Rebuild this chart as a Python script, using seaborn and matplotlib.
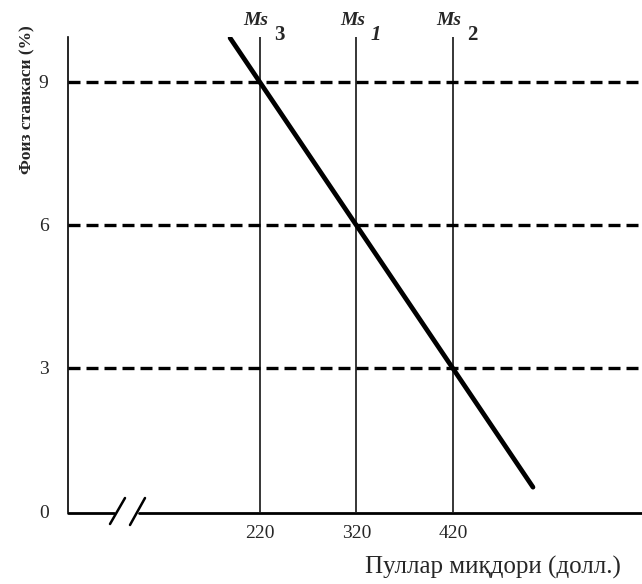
import matplotlib
matplotlib.use("Agg")
import matplotlib.pyplot as plt
import seaborn as sns
import pandas as pd

# ---- data ----
money_ticks = [220, 320, 420]
rate_ticks = [0, 3, 6, 9]
supply_x = [220, 320, 420]
supply_labels = ["3", "1", "2"]
rate_levels = [3, 6, 9]
demand_money = [189, 503]
demand_rate = [9.92, 0.5]

sns.set_style("white")
plt.rcParams['font.family'] = ['Liberation Serif', 'DejaVu Serif']

fig = plt.figure(figsize=(6.42, 5.84), dpi=100)
ax = fig.add_axes([68/642, 72/584, 574/642, 475/584])

# horizontal dashed rate levels
for r in rate_levels:
    ax.axhline(r, color='black', lw=2.4, ls=(0, (3.6, 1.8)), zorder=2)

# vertical money supply lines
for x in supply_x:
    ax.axvline(x, color='black', lw=1.1, zorder=2)

# demand line
df = pd.DataFrame({"money": demand_money, "rate": demand_rate})
sns.lineplot(data=df, x="money", y="rate", ax=ax, color='black', lw=3.4,
             solid_capstyle='round', zorder=3)

ax.set_xlim(21, 616)
ax.set_ylim(-0.02, 9.94)
ax.set_xticks(money_ticks)
ax.set_xticklabels([str(v) for v in money_ticks], fontsize=14)
ax.set_yticks(rate_ticks)
ax.set_yticklabels([str(v) for v in rate_ticks], fontsize=14)
ax.tick_params(axis='both', length=0)
ax.tick_params(axis='x', pad=9)
ax.tick_params(axis='y', pad=14)
ax.set_xlabel("")
ax.set_ylabel("")

for s in ['top', 'right', 'bottom']:
    ax.spines[s].set_visible(False)
ax.spines['left'].set_color('black')
ax.spines['left'].set_linewidth(1.2)

# bottom axis with break
tr = ax.transAxes
def fx(px):
    return (px - 68) / 574
def fy(py):
    return (584 - 72 - py) / 475 * 1.0
ax.plot([0, fx(114)], [fy(513), fy(513)], transform=tr, color='black', lw=2.0, clip_on=False)
ax.plot([fx(139), 1], [fy(513), fy(513)], transform=tr, color='black', lw=2.0, clip_on=False)
ax.plot([fx(110), fx(125)], [fy(524), fy(498)], transform=tr, color='black', lw=1.8, clip_on=False)
ax.plot([fx(130), fx(145)], [fy(525), fy(498)], transform=tr, color='black', lw=1.8, clip_on=False)

# supply labels
for x, lab in zip(supply_x, supply_labels):
    ax.annotate("Ms", xy=(x, 1), xycoords=('data', 'axes fraction'),
                xytext=(-4, 12), textcoords='offset pixels', ha='center', va='baseline',
                fontsize=14, fontstyle='italic', fontweight='bold', annotation_clip=False)
    ax.annotate(lab, xy=(x, 1), xycoords=('data', 'axes fraction'),
                xytext=(19, -3), textcoords='offset pixels', ha='center', va='baseline',
                fontsize=15, fontweight='bold', fontstyle='italic' if lab == "1" else 'normal',
                annotation_clip=False)

fig.text(27/642, 1 - 100/584, "Фоиз ставкаси (%)", rotation=90, ha='center', va='center',
         fontsize=12.5, fontweight='bold')
fig.text(493/642, 1 - 567/584, "Пуллар миқдори (долл.)", ha='center', va='center',
         fontsize=18)

fig.savefig("out.png", dpi=100)
